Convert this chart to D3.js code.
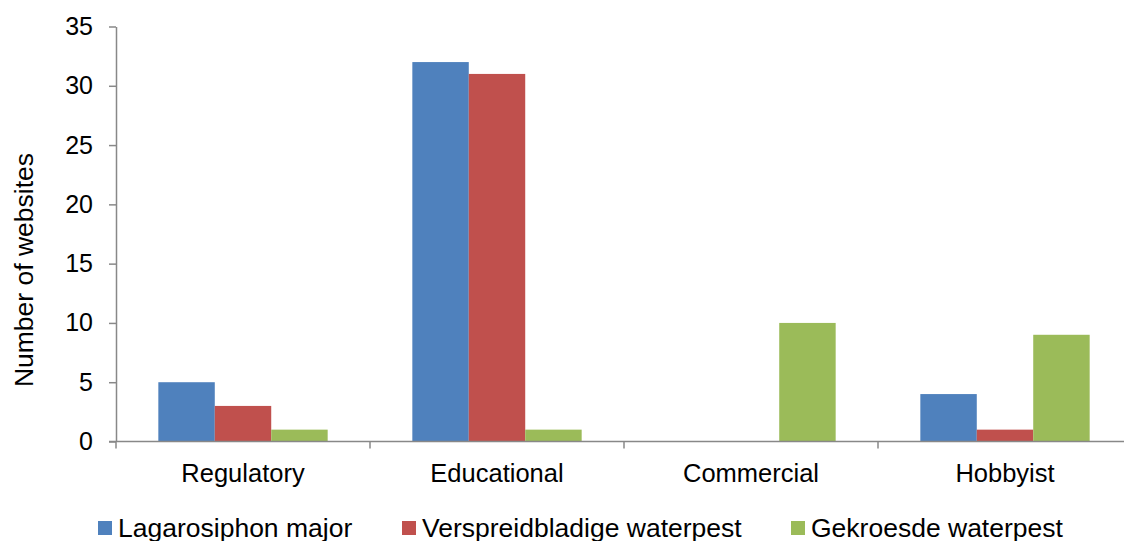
<!DOCTYPE html>
<html>
<head>
<meta charset="utf-8">
<script src="https://cdn.jsdelivr.net/npm/d3@7"></script>
<style>
  body { margin: 0; background: #fff; overflow: hidden; }
  svg text { font-family: Arial, "Liberation Sans", sans-serif; fill: #000; }
</style>
</head>
<body>
<div id="chart"></div>
<script>
const categories = ['Regulatory', 'Educational', 'Commercial', 'Hobbyist'];
const seriesNames = ['Lagarosiphon major', 'Verspreidbladige waterpest', 'Gekroesde waterpest'];
const lagarosiphon = [5, 32, 0, 4];
const verspreid = [3, 31, 0, 1];
const gekroesde = [1, 1, 10, 9];
const yTicks = [0, 5, 10, 15, 20, 25, 30, 35];

const colors = ['#4F81BD', '#C0504D', '#9BBB59'];
const series = [lagarosiphon, verspreid, gekroesde];

const width = 1124, height = 541;
// plot runs a little past the right edge, like the original picture
const plotLeft = 116, plotRight = 1132, plotTop = 26.5, plotBottom = 441.5;
const axisColor = '#888888';

const svg = d3.select('#chart')
    .append('svg')
    .attr('width', width)
    .attr('height', height);

/* scales */
const x0 = d3.scaleBand()
    .domain(categories)
    .range([plotLeft, plotRight])
    .paddingInner(1 / 3)
    .paddingOuter(1 / 6);

const x1 = d3.scaleBand()
    .domain(d3.range(seriesNames.length))
    .range([0, x0.bandwidth()]);

const xCat = d3.scaleBand()
    .domain(categories)
    .range([plotLeft, plotRight]);

const yScale = d3.scaleLinear()
    .domain([0, 35])
    .range([plotBottom, plotTop]);

/* bars */
categories.forEach((c, i) => {
    series.forEach((s, j) => {
        svg.append('rect')
            .attr('x', x0(c) + x1(j))
            .attr('y', yScale(s[i]))
            .attr('width', x1.bandwidth())
            .attr('height', yScale(0) - yScale(s[i]))
            .attr('fill', colors[j]);
    });
});

/* y axis */
const yAxis = d3.axisLeft(yScale)
    .tickValues(yTicks)
    .tickSize(7)
    .tickPadding(16)
    .tickSizeOuter(0);

const gy = svg.append('g')
    .attr('transform', `translate(${plotLeft},0)`)
    .call(yAxis);
gy.select('.domain').attr('stroke', axisColor).attr('stroke-width', 1.5);
gy.selectAll('.tick line').attr('stroke', axisColor).attr('stroke-width', 1.5);
gy.selectAll('.tick text')
    .style('font-size', '25px')
    .attr('fill', '#000');

/* x axis: line plus category boundary ticks */
svg.append('line')
    .attr('x1', plotLeft - 7)
    .attr('x2', plotRight)
    .attr('y1', yScale(0))
    .attr('y2', yScale(0))
    .attr('stroke', axisColor)
    .attr('stroke-width', 1.5);

categories.forEach(c => {
    const xx = xCat(c);
    svg.append('line')
        .attr('x1', xx).attr('x2', xx)
        .attr('y1', yScale(0)).attr('y2', yScale(0) + 7)
        .attr('stroke', axisColor)
        .attr('stroke-width', 1.5);
});

categories.forEach(c => {
    svg.append('text')
        .text(c)
        .attr('x', xCat(c) + xCat.bandwidth() / 2)
        .attr('y', 482)
        .attr('text-anchor', 'middle')
        .style('font-size', '25.5px');
});

/* y label */
svg.append('text')
    .text('Number of websites')
    .attr('transform', 'translate(33,270) rotate(-90)')
    .attr('text-anchor', 'middle')
    .style('font-size', '26.5px');

/* legend */
const legendX = [98, 402, 791];
seriesNames.forEach((n, j) => {
    svg.append('rect')
        .attr('x', legendX[j])
        .attr('y', 521)
        .attr('width', 14)
        .attr('height', 14)
        .attr('fill', colors[j]);
    svg.append('text')
        .text(n)
        .attr('x', legendX[j] + 20)
        .attr('y', 537)
        .style('font-size', '26.5px');
});
</script>
</body>
</html>
